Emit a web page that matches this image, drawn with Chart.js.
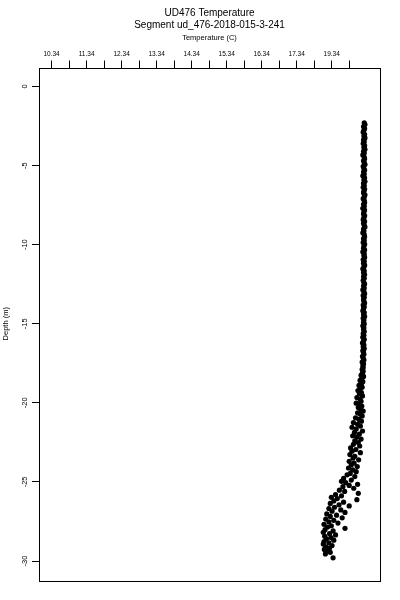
<!DOCTYPE html>
<html>
<head>
<meta charset="utf-8">
<script src="https://cdn.jsdelivr.net/npm/chart.js@4.4.1/dist/chart.umd.min.js"></script>
<style>
    html, body { margin: 0; padding: 0; background: #ffffff; }
    #contenedor { width: 400px; height: 600px; }
</style>
</head>
<body>
<div id="contenedor"><canvas id="grafico" width="400" height="600"></canvas></div>
<script>
// profundidad (m) de cada lectura, de arriba hacia abajo
const depths = [
    -2.30,-2.41,-2.53,-2.66,-2.77,-2.89,-3.02,-3.13,-3.25,-3.38,
    -3.49,-3.61,-3.74,-3.85,-3.97,-4.10,-4.21,-4.33,-4.46,-4.57,
    -4.69,-4.82,-4.93,-5.05,-5.18,-5.29,-5.41,-5.54,-5.65,-5.77,
    -5.90,-6.01,-6.13,-6.26,-6.37,-6.49,-6.62,-6.73,-6.85,-6.98,
    -7.09,-7.21,-7.34,-7.45,-7.57,-7.70,-7.81,-7.93,-8.06,-8.17,
    -8.29,-8.42,-8.53,-8.65,-8.78,-8.89,-9.01,-9.14,-9.25,-9.37,
    -9.50,-9.61,-9.73,-9.86,-9.97,-10.09,-10.22,-10.33,-10.45,-10.58,
    -10.69,-10.81,-10.94,-11.05,-11.17,-11.30,-11.41,-11.53,-11.66,-11.77,
    -11.89,-12.02,-12.13,-12.25,-12.38,-12.49,-12.61,-12.74,-12.85,-12.97,
    -13.10,-13.21,-13.33,-13.46,-13.57,-13.69,-13.82,-13.93,-14.05,-14.18,
    -14.29,-14.41,-14.54,-14.65,-14.77,-14.90,-15.01,-15.13,-15.26,-15.37,
    -15.49,-15.62,-15.73,-15.85,-15.98,-16.09,-16.21,-16.34,-16.45,-16.57,
    -16.70,-16.81,-16.93,-17.06,-17.17,-17.29,-17.42,-17.53,-17.65,-17.78,
    -17.89,-18.01,
    -18.12,-18.25,-18.33,-18.45,-18.58,-18.66,-18.78,-18.90,-19.01,-19.10,
    -19.22,-19.35,-19.44,-19.56,-19.67,-19.78,-19.90,-20.02,-20.10,
    -20.20,-20.30,-20.41,-20.52,-20.63,-20.71,-20.83,-20.95,-21.05,-21.16,
    -21.25,-21.36,-21.47,-21.55,-21.66,-21.78,-21.87,-21.98,-22.08,-22.17,
    -22.29,-22.40,-22.51,-22.62,-22.73,-22.85,-22.95,-23.06,-23.15,-23.27,
    -23.38,-23.49,-23.60,-23.70,-23.81,-23.92,-24.03,-24.12,-24.24,-24.35,
    -24.46,-24.55,-24.66,-24.78,-24.88,-24.96,-25.05,-25.15,-25.22,-25.30,
    -25.40,-25.52,-25.60,-25.72,-25.80,-25.88,-25.97,-26.05,-26.12,-26.20,
    -26.28,-26.36,-26.45,-26.52,-26.60,-26.68,-26.77,-26.85,-26.93,-27.02,
    -27.10,-27.18,-27.27,-27.35,-27.43,-27.52,-27.60,-27.68,-27.77,-27.85,
    -27.93,-28.02,-28.10,-28.18,-28.27,-28.35,-28.43,-28.52,-28.60,-28.68,
    -28.77,-28.85,-28.93,-29.02,-29.10,-29.18,-29.27,-29.36,-29.45,-29.55,
    -29.80
];

// temperatura (C) de cada lectura
const temps = [
    19.27,19.29,19.25,19.28,19.26,19.24,19.28,19.26,19.29,19.25,
    19.27,19.24,19.28,19.26,19.29,19.25,19.27,19.23,19.27,19.28,
    19.25,19.27,19.29,19.24,19.26,19.28,19.25,19.27,19.23,19.28,
    19.26,19.29,19.25,19.27,19.24,19.28,19.26,19.25,19.29,19.27,
    19.24,19.27,19.28,19.25,19.27,19.23,19.28,19.26,19.25,19.28,
    19.26,19.24,19.28,19.25,19.27,19.29,19.25,19.26,19.23,19.27,
    19.28,19.25,19.27,19.24,19.28,19.26,19.25,19.28,19.23,19.27,
    19.26,19.28,19.24,19.27,19.25,19.28,19.26,19.23,19.27,19.25,
    19.28,19.25,19.27,19.24,19.26,19.28,19.25,19.27,19.23,19.26,
    19.28,19.24,19.27,19.25,19.26,19.28,19.24,19.27,19.25,19.23,
    19.27,19.25,19.28,19.24,19.26,19.25,19.27,19.23,19.26,19.25,
    19.27,19.24,19.26,19.23,19.27,19.25,19.22,19.26,19.24,19.27,
    19.23,19.25,19.26,19.22,19.24,19.26,19.21,19.25,19.23,19.24,
    19.21,19.24,
    19.22,19.18,19.25,19.20,19.15,19.23,19.19,19.12,19.21,19.16,
    19.09,19.19,19.13,19.22,19.06,19.15,19.18,19.04,19.12,
    19.20,19.10,19.17,19.24,19.08,19.15,19.21,19.02,19.12,19.19,
    18.96,19.08,19.16,18.92,19.04,19.22,18.99,19.13,18.94,19.06,
    19.18,19.00,19.10,18.96,19.14,18.88,19.03,18.92,19.16,18.86,
    19.00,18.95,19.11,18.84,18.98,18.90,19.07,18.82,18.94,19.04,
    18.87,18.78,19.00,18.68,18.90,18.62,18.74,19.08,18.84,18.66,
    18.97,18.56,18.71,19.10,18.45,18.62,18.33,18.50,19.06,18.40,
    18.68,18.30,18.55,18.84,18.42,18.26,18.60,18.35,18.72,18.20,
    18.48,18.30,18.64,18.17,18.40,18.26,18.52,18.12,18.33,18.22,
    18.72,18.15,18.38,18.10,18.28,18.45,18.14,18.32,18.19,18.40,
    18.12,18.26,18.10,18.35,18.17,18.28,18.13,18.22,18.30,18.16,
    18.38
];

// marcas del eje superior (cada media unidad) y sus etiquetas
const xTickValues = [10.34,10.84,11.34,11.84,12.34,12.84,13.34,13.84,14.34,14.84,15.34,15.84,16.34,16.84,17.34,17.84,18.34,18.84];
const xTickLabels = ['10.34','','11.34','','12.34','','13.34','','14.34','','15.34','','16.34','','17.34','','19.34',''];
const yTickValues = [0,-5,-10,-15,-20,-25,-30];
const yTickLabels = ['0','-5','-10','-15','-20','-25','-30'];

const fuente = "'Liberation Sans', Arial, Helvetica, sans-serif";

//dibuja el recuadro completo alrededor del area de datos
const marcoPlugin = {
    id: 'marco',
    afterDraw(chart) {
        const {ctx, chartArea} = chart;
        ctx.save();
        ctx.strokeStyle = '#000000';
        ctx.lineWidth = 1;
        ctx.strokeRect(Math.round(chartArea.left) + 0.5, Math.round(chartArea.top) + 0.5,
            Math.round(chartArea.right - chartArea.left), Math.round(chartArea.bottom - chartArea.top));
        ctx.restore();
    }
};

let puntos = depths.map((d, i) => ({x: temps[i], y: d}));

let graficoTemperatura = new Chart(document.getElementById('grafico'), {
    type: 'scatter',
    data: {
        datasets: [{
            label: 'Temperature',
            data: puntos,
            pointRadius: 2.6,
            pointBackgroundColor: '#000000',
            pointBorderWidth: 0,
            pointHoverRadius: 2.6
        }]
    },
    options: {
        responsive: false,
        animation: false,
        layout: {
            padding: {top: 0, left: 0, right: 20, bottom: 20}
        },
        plugins: {
            legend: {display: false},
            tooltip: {enabled: false},
            title: {
                display: true,
                fullSize: false,
                text: ['UD476 Temperature', 'Segment ud_476-2018-015-3-241'],
                color: '#000000',
                font: {family: fuente, size: 10, weight: 'normal', lineHeight: 1.2},
                padding: {top: 7, bottom: 0}
            }
        },
        scales: {
            x: {
                type: 'linear',
                position: 'top',
                min: 9.98,
                max: 19.72,
                afterFit: (scale) => { scale.height = 36.5; },
                afterBuildTicks: (scale) => { scale.ticks = xTickValues.map(v => ({value: v})); },
                grid: {drawOnChartArea: false, drawTicks: true, tickLength: 7, color: '#000000', lineWidth: 1},
                border: {display: false},
                ticks: {
                    autoSkip: false,
                    maxRotation: 0,
                    minRotation: 0,
                    padding: 2,
                    color: '#000000',
                    font: {family: fuente, size: 6.5},
                    callback: (value, index) => xTickLabels[index]
                },
                title: {
                    display: true,
                    text: 'Temperature (C)',
                    color: '#000000',
                    font: {family: fuente, size: 7.5},
                    padding: {top: 2, bottom: 0}
                }
            },
            y: {
                type: 'linear',
                position: 'left',
                min: -31.2,
                max: 1.2,
                afterFit: (scale) => { scale.width = 39; },
                afterBuildTicks: (scale) => { scale.ticks = yTickValues.map(v => ({value: v})); },
                grid: {drawOnChartArea: false, drawTicks: true, tickLength: 7, color: '#000000', lineWidth: 1},
                border: {display: false},
                ticks: {
                    autoSkip: false,
                    minRotation: 90,
                    maxRotation: 90,
                    crossAlign: 'center',
                    padding: 2,
                    color: '#000000',
                    font: {family: fuente, size: 7.5},
                    callback: (value, index) => yTickLabels[index]
                },
                title: {
                    display: true,
                    text: 'Depth (m)',
                    color: '#000000',
                    font: {family: fuente, size: 7.5},
                    padding: {top: 1, bottom: 0}
                }
            }
        }
    },
    plugins: [marcoPlugin]
});
</script>
</body>
</html>
